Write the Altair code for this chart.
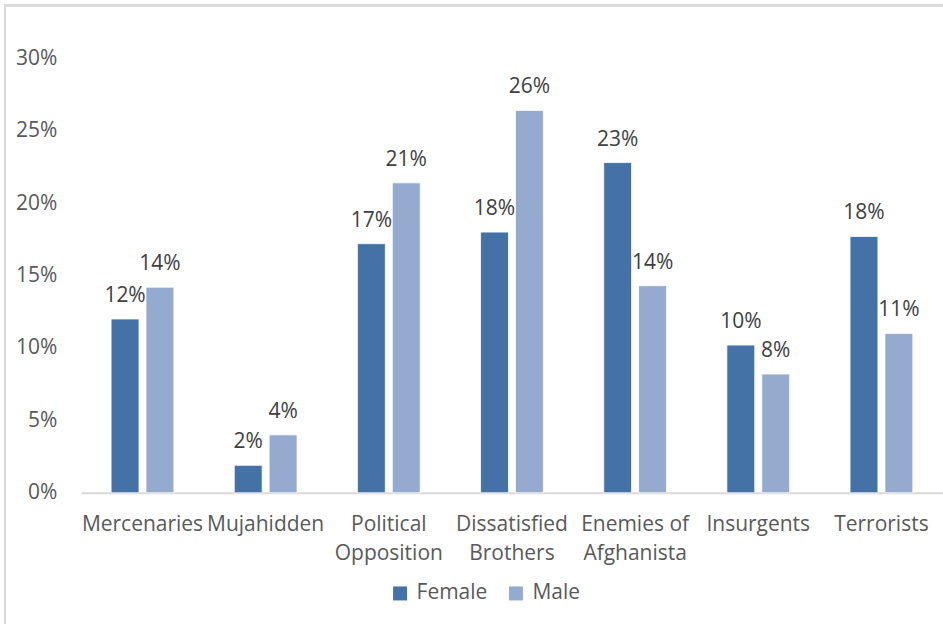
import altair as alt
import pandas as pd

categories = ["Mercenaries", "Mujahidden", "Political\nOpposition", "Dissatisfied\nBrothers",
              "Enemies of\nAfghanista", "Insurgents", "Terrorists"]
female = [0.120, 0.019, 0.172, 0.180, 0.228, 0.102, 0.177]
male = [0.142, 0.040, 0.214, 0.264, 0.143, 0.082, 0.110]
series = ["Female", "Male"]
colors = ["#4472A6", "#95AACF"]
y_ticks = [0, 0.05, 0.10, 0.15, 0.20, 0.25, 0.30]

rows = []
for c, f, m in zip(categories, female, male):
    rows.append({"category": c, "gender": "Female", "value": f})
    rows.append({"category": c, "gender": "Male", "value": m})
df = pd.DataFrame(rows)

FONT = "Open Sans"
FS = 21
W, H = 863, 435

x_enc = alt.X("category:N", sort=categories,
              scale=alt.Scale(paddingInner=0.49, paddingOuter=0.245),
              axis=alt.Axis(title=None, labelAngle=0, labelPadding=21, labelFontSize=FS,
                            labelColor="#595959", labelFont=FONT, labelLineHeight=29,
                            labelExpr="split(datum.label, '\\n')", labelLimit=0,
                            labelOverlap=False, ticks=False, domainColor="#d9d9d9",
                            domainWidth=2, labelBaseline="top"))
y_enc = alt.Y("value:Q", scale=alt.Scale(domain=[0, 0.30], nice=False, zero=True),
              axis=alt.Axis(title=None, values=y_ticks, format=".0%", grid=False, domain=False,
                            ticks=False, labelPadding=24, labelFontSize=FS, labelColor="#595959",
                            labelFont=FONT))
xo = alt.XOffset("gender:N", sort=series, scale=alt.Scale(paddingInner=0.2))

bars = alt.Chart(df).mark_bar(stroke="white", strokeWidth=0.8).encode(
    x=x_enc, y=y_enc, xOffset=xo,
    color=alt.Color("gender:N", sort=series, scale=alt.Scale(domain=series, range=colors),
                    legend=alt.Legend(title=None, orient="none", direction="horizontal",
                                      legendX=309, legendY=525, symbolType="square",
                                      symbolSize=196, symbolStrokeWidth=0, labelFontSize=FS,
                                      labelFont=FONT, labelColor="#595959", labelOffset=6,
                                      columnPadding=18)),
)

labels = alt.Chart(df).mark_text(baseline="alphabetic", dy=-17, fontSize=FS, font=FONT,
                                 color="#404040").encode(
    x=alt.X("category:N", sort=categories), y="value:Q", xOffset=xo,
    text=alt.Text("value:Q", format=".0%"),
)

frame = alt.Chart(df).mark_rect(fill=None, stroke="#d9d9d9", strokeWidth=2).encode(
    x=alt.value(-76), x2=alt.value(W + 200), y=alt.value(-53), y2=alt.value(H + 300)
)

chart = alt.layer(frame, bars, labels).properties(
    width=W, height=H,
    background="white",
    autosize=alt.AutoSizeParams(type="none"),
    padding={"left": 81, "top": 58, "right": 0, "bottom": 131},
).configure_view(stroke=None)

chart.save("out.html", embed_options={"renderer": "svg", "actions": False})
